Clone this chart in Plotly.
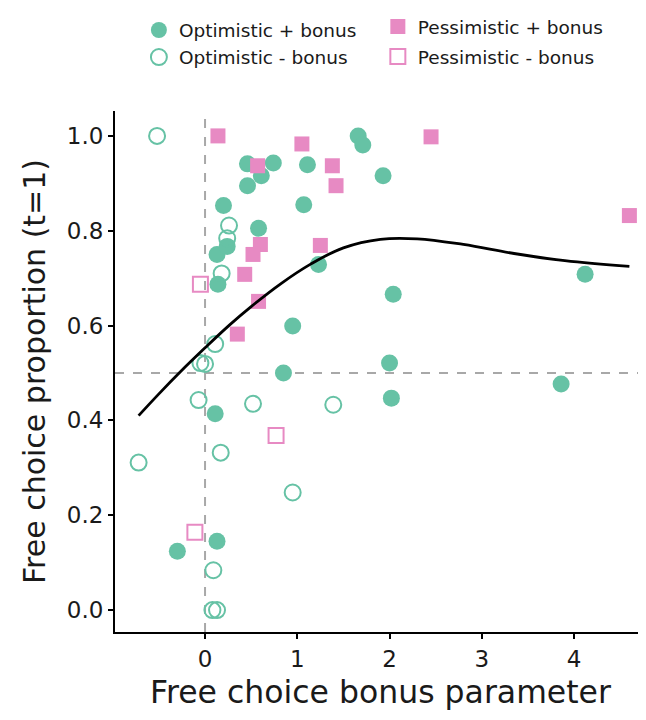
import plotly.graph_objects as go

# ---- data ----
opt_plus_x = [0.46, 0.74, 0.61, 0.46, 0.20, 0.58, 1.07, 1.11, 1.66, 1.71, 1.93, 0.13, 0.24, 0.14,
              1.23, 2.04, 4.12, 0.95, 0.85, 2.00, 2.02, 3.86, 0.11, 0.13, -0.30]
opt_plus_y = [0.941, 0.943, 0.916, 0.895, 0.853, 0.805, 0.855, 0.939, 1.00, 0.981, 0.916, 0.750, 0.767, 0.687,
              0.729, 0.666, 0.708, 0.599, 0.500, 0.521, 0.447, 0.477, 0.414, 0.145, 0.124]

opt_minus_x = [-0.52, 0.26, 0.24, 0.18, 0.11, -0.05, 0.00, -0.07, 0.52, 1.39, 0.17, -0.72, 0.95, 0.09, 0.08, 0.13]
opt_minus_y = [1.00, 0.811, 0.784, 0.710, 0.561, 0.521, 0.519, 0.443, 0.435, 0.433, 0.332, 0.311, 0.248, 0.084, 0.0, 0.0]

pes_plus_x = [0.14, 1.05, 2.45, 0.57, 1.38, 1.42, 4.60, 1.25, 0.60, 0.52, 0.43, 0.58, 0.35]
pes_plus_y = [1.00, 0.983, 0.998, 0.937, 0.937, 0.895, 0.832, 0.769, 0.771, 0.750, 0.708, 0.651, 0.582]

pes_minus_x = [-0.05, 0.77, -0.11]
pes_minus_y = [0.687, 0.368, 0.164]

fit_x = [-0.72, -0.5, -0.27, 0.0, 0.27, 0.5, 0.82, 1.14, 1.5, 1.9, 2.3, 2.8, 3.35, 3.9, 4.6]
fit_y = [0.41, 0.456, 0.502, 0.553, 0.602, 0.640, 0.688, 0.729, 0.764, 0.782, 0.783, 0.771, 0.752, 0.737, 0.725]

x_ticks = [0, 1, 2, 3, 4]
y_ticks = [0.0, 0.2, 0.4, 0.6, 0.8, 1.0]

GREEN = "#66c2a5"
PINK = "#e78ac3"
FONT = "DejaVu Sans"
TXT = "#1a1a1a"

fig = go.Figure()

fig.add_trace(go.Scatter(x=opt_plus_x, y=opt_plus_y, mode="markers", name="Optimistic + bonus",
                         marker=dict(symbol="circle", size=17, color=GREEN, line=dict(width=0)),
                         legend="legend", legendgroup="op"))
fig.add_trace(go.Scatter(x=opt_minus_x, y=opt_minus_y, mode="markers", name="Optimistic - bonus",
                         marker=dict(symbol="circle-open", size=16, color=GREEN, line=dict(width=2, color=GREEN)),
                         legend="legend", legendgroup="om"))
fig.add_trace(go.Scatter(x=pes_plus_x, y=pes_plus_y, mode="markers", name="Pessimistic + bonus",
                         marker=dict(symbol="square", size=15, color=PINK, line=dict(width=0)),
                         legend="legend2", legendgroup="pp"))
fig.add_trace(go.Scatter(x=pes_minus_x, y=pes_minus_y, mode="markers", name="Pessimistic - bonus",
                         marker=dict(symbol="square-open", size=15, color=PINK, line=dict(width=2, color=PINK)),
                         legend="legend2", legendgroup="pm"))
fig.add_trace(go.Scatter(x=fit_x, y=fit_y, mode="lines", showlegend=False,
                         line=dict(color="black", width=2.8, shape="spline", smoothing=1.1)))

fig.add_shape(type="line", xref="x", yref="paper", x0=0, x1=0, y0=0, y1=1,
              line=dict(color="#a8a8a8", width=2, dash="dash"), layer="below")
fig.add_shape(type="line", xref="paper", yref="y", x0=0, x1=1, y0=0.5, y1=0.5,
              line=dict(color="#a8a8a8", width=2, dash="dash"), layer="below")

# page body has an 8px default margin, so the figure is 8px smaller
fig.update_layout(
    width=638, height=712,
    margin=dict(l=107, r=0, t=101, b=88),
    plot_bgcolor="white", paper_bgcolor="white",
    font=dict(family=FONT, color=TXT),
    legend=dict(x=0.045, y=1.191, xanchor="left", yanchor="top", orientation="v", tracegroupgap=0,
                font=dict(size=18.5, family=FONT, color=TXT), bgcolor="rgba(0,0,0,0)"),
    legend2=dict(x=0.495, y=1.198, xanchor="left", yanchor="top", orientation="v", tracegroupgap=3,
                 font=dict(size=18.5, family=FONT, color=TXT), bgcolor="rgba(0,0,0,0)"),
    xaxis=dict(range=[-0.976, 4.78], tickvals=x_ticks, ticktext=[str(v) for v in x_ticks],
               showgrid=False, zeroline=False, showline=True, linecolor="black", linewidth=2,
               ticks="outside", ticklen=5, tickwidth=2, tickcolor="black", automargin=False,
               tickfont=dict(size=23, family=FONT, color=TXT),
               title=dict(text="Free choice bonus parameter", font=dict(size=31.5, family=FONT, color=TXT),
                          standoff=10)),
    yaxis=dict(range=[-0.0462, 1.0525], tickvals=y_ticks, ticktext=[f"{v:.1f}" for v in y_ticks],
               showgrid=False, zeroline=False, showline=True, linecolor="black", linewidth=2,
               ticks="outside", ticklen=5, tickwidth=2, tickcolor="black", automargin=False,
               tickfont=dict(size=23, family=FONT, color=TXT),
               title=dict(text="Free choice proportion (t=1)", font=dict(size=30, family=FONT, color=TXT),
                          standoff=12)),
)

fig.write_html("out.html")
